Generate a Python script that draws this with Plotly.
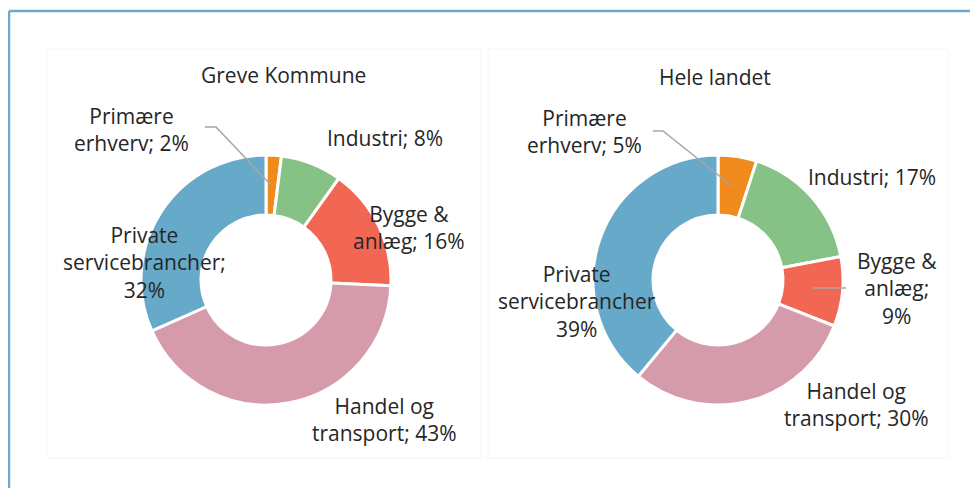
import plotly.graph_objects as go

# The page body has an 8px margin, so the figure is 970x480 and sits at (8, 8) in the window.
OFF = 8
W, H = 970, 480

categories = ["Primære erhverv", "Industri", "Bygge & anlæg", "Handel og transport", "Private servicebrancher"]
greve_values = [2, 8, 16, 43, 32]
landet_values = [5, 17, 9, 30, 39]
greve_labels = ["Primære<br>erhverv; 2%", "Industri; 8%", "Bygge &<br>anlæg; 16%",
                "Handel og<br>transport; 43%", "Private<br>servicebrancher;<br>32%"]
landet_labels = ["Primære<br>erhverv; 5%", "Industri; 17%", "Bygge &<br>anlæg;<br>9%",
                 "Handel og<br>transport; 30%", "Private<br>servicebrancher<br>39%"]
titles = ["Greve Kommune", "Hele landet"]
colors = ["#f08a1c", "#86c285", "#f16753", "#d59bab", "#67a9c9"]

TXT = "#262626"
FONT = "Open Sans"


def px(x):
    return (x - OFF) / W


def py(y):
    return 1 - (y - OFF) / H


def domain(cx, cy, r):
    return dict(x=[px(cx - r), px(cx + r)], y=[py(cy + r), py(cy - r)])


fig = go.Figure()
for vals, labs, dom in [(greve_values, greve_labels, domain(266, 280, 125)),
                        (landet_values, landet_labels, domain(718, 280, 125))]:
    fig.add_trace(go.Pie(
        labels=categories, values=vals, text=labs,
        sort=False, direction="clockwise", rotation=0, hole=0.52,
        marker=dict(colors=colors, line=dict(color="white", width=3)),
        textinfo="none", hovertemplate="%{label}: %{value}%<extra></extra>",
        domain=dom, showlegend=False,
    ))

# label positions (window pixel centres)
greve_pos = [(131, 129), (385, 138), (409, 228), (384, 419), (144, 262)]
landet_pos = [(584, 132), (872, 177), (897, 288), (856, 404), (577, 301)]

annotations = []
for labs, pos in [(greve_labels, greve_pos), (landet_labels, landet_pos)]:
    for t, (x, y) in zip(labs, pos):
        annotations.append(dict(x=px(x), y=py(y), xref="paper", yref="paper", text=t,
                                showarrow=False, xanchor="center", yanchor="middle",
                                align="center", font=dict(family=FONT, size=21, color=TXT)))
for t, (x, y) in zip(titles, [(283, 75), (715, 77)]):
    annotations.append(dict(x=px(x), y=py(y), xref="paper", yref="paper", text=t,
                            showarrow=False, xanchor="center", yanchor="middle",
                            font=dict(family=FONT, size=21, color=TXT)))

shapes = []
# frame
shapes.append(dict(type="line", xref="paper", yref="paper", x0=px(9), y0=py(11), x1=px(990), y1=py(11),
                   line=dict(color="#6aaccb", width=2.5)))
shapes.append(dict(type="line", xref="paper", yref="paper", x0=px(9), y0=py(11), x1=px(9), y1=py(500),
                   line=dict(color="#6aaccb", width=2.5)))
# faint chart-area boxes
for x0, x1 in [(47, 481), (488, 948)]:
    shapes.append(dict(type="rect", xref="paper", yref="paper", x0=px(x0), y0=py(458), x1=px(x1), y1=py(49),
                       line=dict(color="#f5f5f5", width=1)))
# leader lines
leaders = [
    [(205, 127), (216, 127), (271, 185)],
    [(653, 131), (663, 131), (732, 186)],
    [(813, 288), (846, 288)],
]
for pts in leaders:
    path = "M " + " L ".join(f"{px(x)},{py(y)}" for x, y in pts)
    shapes.append(dict(type="path", xref="paper", yref="paper", path=path,
                       line=dict(color="#a6a6a6", width=1.5)))

fig.update_layout(width=W, height=H, margin=dict(l=0, r=0, t=0, b=0),
                  paper_bgcolor="white", plot_bgcolor="white",
                  annotations=annotations, shapes=shapes,
                  font=dict(family=FONT, color=TXT))
fig.write_html("out.html")
